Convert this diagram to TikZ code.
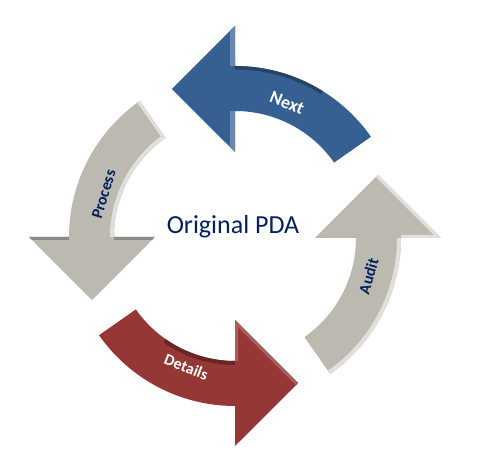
\documentclass[tikz,border=0pt]{standalone}
\usepackage{fontspec}
\setmainfont{Carlito}
\definecolor{pdablue}{RGB}{55,96,146}
\definecolor{pdared}{RGB}{149,55,53}
\definecolor{pdagray}{RGB}{187,185,176}
\definecolor{pdanavy}{RGB}{0,32,96}
% curved arrow, head base at angle #1, shaft over 55 degrees
\newcommand{\cyclearrow}[1]{(#1-55:166) arc[start angle=#1-55,end angle=#1,radius=166]
  -- (#1:206) -- (#1+23.8:156.3) -- (#1:80) -- (#1:121)
  arc[start angle=#1,end angle=#1-55,radius=121] -- cycle}

\begin{document}
\begin{tikzpicture}[x=1pt,y=1pt,
  lbl/.style={font=\bfseries\fontsize{16}{18}\selectfont},
  lite/.style={line width=#1},
  lite/.default=8]
  \useasboundingbox (0,0) rectangle (480,465);
  % Next
  \begin{scope}[shift={(235,233)}]
    \fill[pdablue] \cyclearrow{90};
    \begin{scope}
      \clip \cyclearrow{90};
      \draw[pdablue!70!black,lite=7] (58:166) arc[start angle=58,end angle=90,radius=166];
      \draw[pdablue!75!white,lite=10] (90:206) -- (90:166) (90:121) -- (90:80);
    \end{scope}
    \node[lbl,white,font=\bfseries\fontsize{18}{20}\selectfont,rotate=-22] (next) at (68:139) {Next};
  \end{scope}
  % Process
  \begin{scope}[shift={(235,228)}]
    \fill[pdagray] \cyclearrow{180};
    \begin{scope}
      \clip \cyclearrow{180};
      \draw[pdagray!45!white,lite] (125:121) arc[start angle=125,end angle=180,radius=121];
      \draw[pdagray!45!white,lite=6] (125:121) -- (125:166);
      \draw[pdagray!75!black,lite=6] (180:206) -- (180:166) (180:121) -- (180:80);
    \end{scope}
    \node[lbl,pdanavy,rotate=73] (process) at (162:138) {Process};
  \end{scope}
  % Details
  \begin{scope}[shift={(235,225)}]
    \fill[pdared] \cyclearrow{270};
    \begin{scope}
      \clip \cyclearrow{270};
      \draw[pdared!70!black,lite] (235:121) arc[start angle=235,end angle=270,radius=121];
      \draw[pdared!80!white,lite=6] (270:121) -- (270:80) -- (293.8:156.3);
    \end{scope}
    \node[lbl,white,rotate=-21] (details) at (249:136) {Details};
  \end{scope}
  % Audit
  \begin{scope}[shift={(235,227)}]
    \fill[pdagray] \cyclearrow{0};
    \begin{scope}
      \clip \cyclearrow{0};
      \draw[pdagray!45!white,lite] (-55:166) arc[start angle=-55,end angle=0,radius=166];
      \draw[pdagray!45!white,lite=6] (0:166) -- (0:206) -- (23.8:156.3);
    \end{scope}
    \node[lbl,pdanavy,rotate=74] (audit) at (-16:139) {Audit};
  \end{scope}
  \node[text=pdanavy,font=\fontsize{26}{30}\selectfont] (pda) at (233,238) {Original PDA};
\end{tikzpicture}
\end{document}
